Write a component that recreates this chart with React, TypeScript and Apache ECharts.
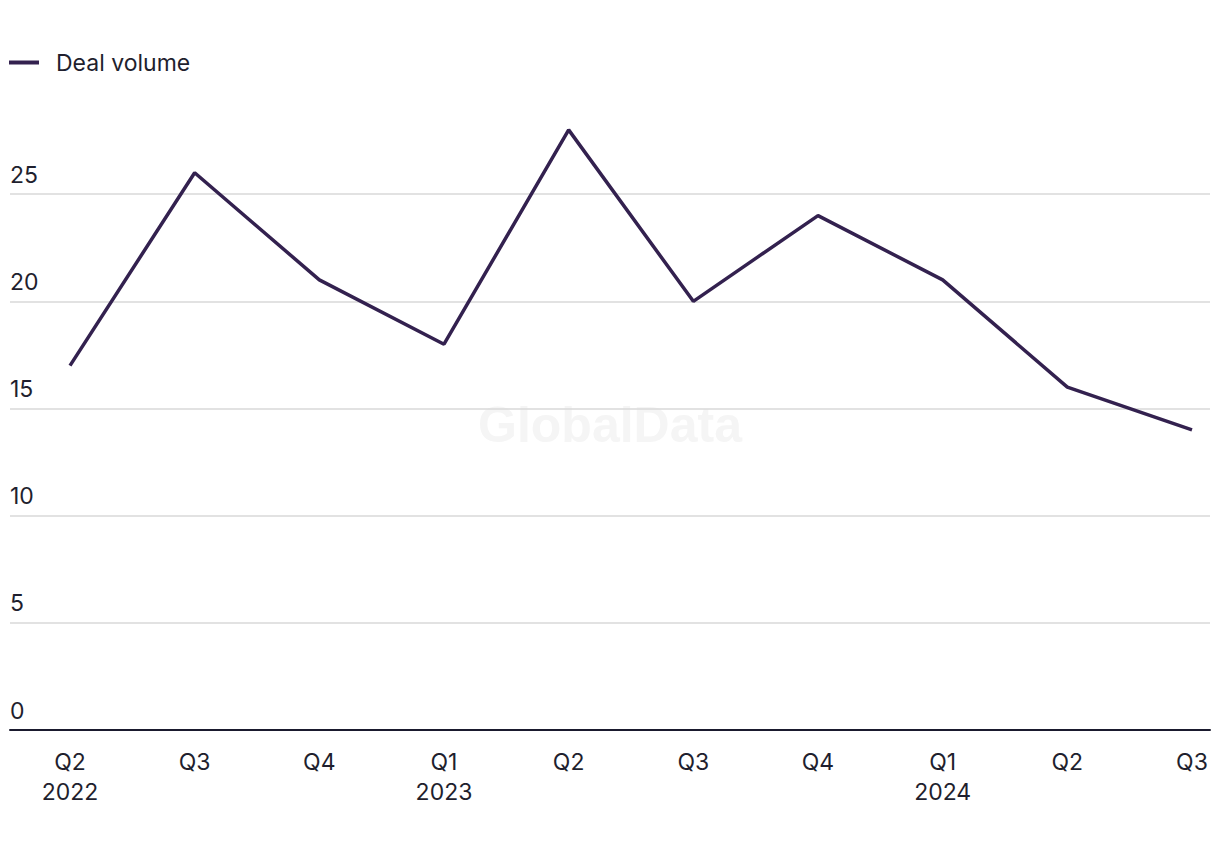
import React, { useEffect, useRef } from "react";
import * as echarts from "echarts";

const categories = ["Q2\n2022", "Q3", "Q4", "Q1\n2023", "Q2", "Q3", "Q4", "Q1\n2024", "Q2", "Q3"];
const dealVolume = [17, 26, 21, 18, 28, 20, 24, 21, 16, 14];
const seriesName = "Deal volume";

const FONT = "Inter, 'Liberation Sans', sans-serif";
const LINE_COLOR = "#33214f";
const TEXT_COLOR = "#1f1f2e";
const FS = 23;

export default function App() {
  const ref = useRef<HTMLDivElement>(null);
  useEffect(() => {
    if (!ref.current) return;
    const chart = echarts.init(ref.current, undefined, { renderer: "svg" });
    const top = 87;
    const bottom = 120;
    chart.setOption({
      animation: false,
      backgroundColor: "#ffffff",
      textStyle: { fontFamily: FONT },
      legend: {
        left: 4,
        top: 46,
        itemWidth: 30,
        itemHeight: 4,
        itemGap: 20,
        icon: "rect",
        textStyle: { fontSize: FS, color: TEXT_COLOR, fontFamily: FONT, padding: [0, 0, 0, 12] },
        data: [{ name: seriesName, icon: "rect" }],
      },
      graphic: [
        {
          type: "text",
          left: "center",
          top: 400,
          z: 0,
          style: {
            text: "GlobalData",
            fontSize: 50,
            fontWeight: "bold",
            fontFamily: "'Liberation Sans', Arial, sans-serif",
            fill: "#f5f5f5",
          },
        },
      ],
      grid: [
        { left: 10, right: 10, top, bottom, containLabel: false },
        { left: 70, right: 28, top, bottom, containLabel: false },
      ],
      xAxis: [
        {
          type: "category",
          gridIndex: 0,
          data: categories,
          axisLine: { show: true, lineStyle: { color: "#1a1a2e", width: 2 } },
          axisTick: { show: false },
          axisLabel: { show: false },
          splitLine: { show: false },
        },
        {
          type: "category",
          gridIndex: 1,
          data: categories,
          boundaryGap: false,
          axisLine: { show: false },
          axisTick: { show: false },
          axisLabel: {
            show: true,
            interval: 0,
            margin: 17,
            fontSize: FS,
            lineHeight: 30,
            color: TEXT_COLOR,
            fontFamily: FONT,
          },
          splitLine: { show: false },
        },
      ],
      yAxis: [
        {
          type: "value",
          gridIndex: 0,
          min: 0,
          max: 30,
          interval: 5,
          axisLine: { show: false },
          axisTick: { show: false },
          axisLabel: {
            inside: true,
            margin: 0,
            showMaxLabel: false,
            verticalAlign: "bottom",
            padding: [0, 0, 8, 0],
            fontSize: FS,
            color: TEXT_COLOR,
            fontFamily: FONT,
          },
          splitLine: {
            show: true,
            showMaxLine: false,
            lineStyle: { color: "#d9d9d9", width: 1.5 },
          },
        },
        {
          type: "value",
          gridIndex: 1,
          min: 0,
          max: 30,
          interval: 5,
          show: false,
          splitLine: { show: false },
        },
      ],
      series: [
        {
          name: seriesName,
          type: "line",
          xAxisIndex: 1,
          yAxisIndex: 1,
          data: dealVolume,
          showSymbol: false,
          symbol: "none",
          lineStyle: { color: LINE_COLOR, width: 3.5 },
          itemStyle: { color: LINE_COLOR },
          z: 5,
        },
      ],
    });
    return () => chart.dispose();
  }, []);
  return <div ref={ref} style={{ width: 1220, height: 850, margin: -8 }} />;
}
